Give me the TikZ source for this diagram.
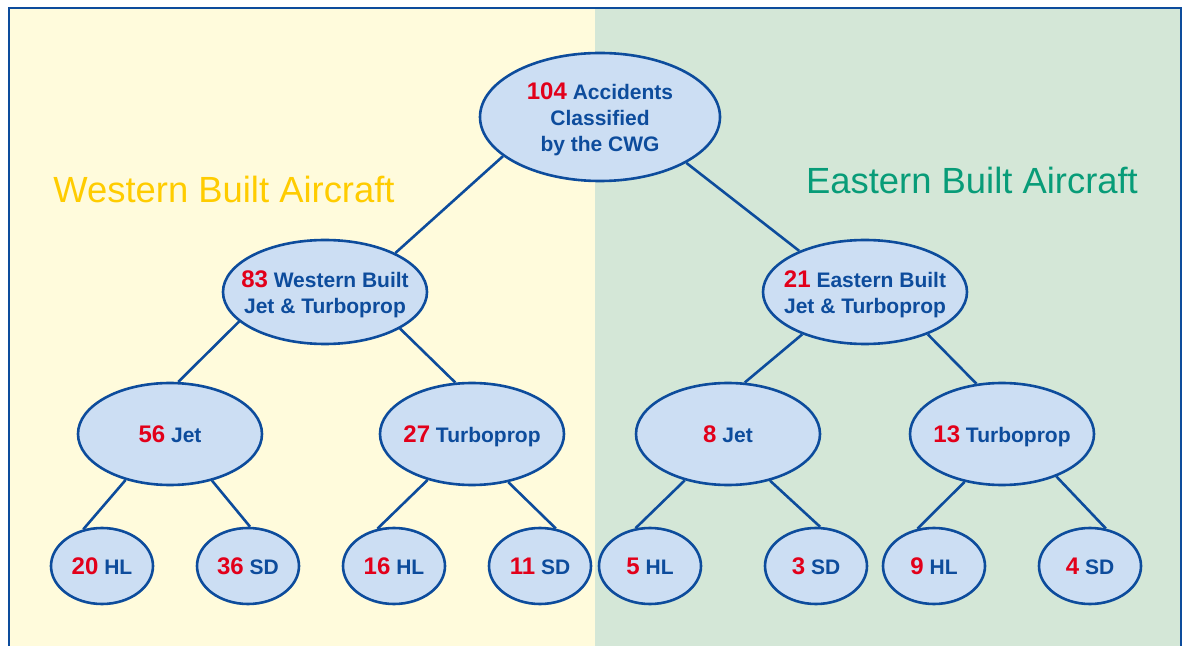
\documentclass[tikz,border=0pt]{standalone}
\usepackage{fontspec}
\setmainfont{Liberation Sans}
\usepackage{tikz}
\usetikzlibrary{shapes.geometric}

\definecolor{westfill}{HTML}{FFFBDC}
\definecolor{eastfill}{HTML}{D4E7D7}
\definecolor{bubblefill}{HTML}{CCDEF3}
\definecolor{navy}{HTML}{0D4C9C}
\definecolor{countred}{HTML}{E2001A}
\definecolor{westtitle}{HTML}{FFCC00}
\definecolor{easttitle}{HTML}{089C78}

\newcommand{\cnt}[1]{{\fontsize{12}{13}\selectfont\color{countred}#1}}

\begin{document}
\begin{tikzpicture}[
    x=0.5pt, y=-0.5pt,
    every node/.style={font=\bfseries\fontsize{10.5}{13}\selectfont},
    bubble/.style={
      ellipse, draw=navy, line width=1.3pt,
      fill=bubblefill, inner sep=0pt
    },
    rootbox/.style={bubble, minimum width=120pt, minimum height=64pt},
    groupbox/.style={bubble, minimum width=102pt, minimum height=52pt},
    typebox/.style={bubble, minimum width=92pt, minimum height=51pt},
    leafbox/.style={bubble, minimum width=51pt, minimum height=38pt},
    caption/.style={text=navy, align=center, inner sep=0pt, text depth=0pt},
    region/.style={font=\fontsize{18.2}{20}\selectfont, inner sep=0pt},
    link/.style={draw=navy, line width=1.3pt}
  ]

    % canvas and halves
    \useasboundingbox (0,0) rectangle (1182,646);
    \fill[westfill] (9,9) rectangle (595,646);
    \fill[eastfill] (595,9) rectangle (1181,646);
    \draw[navy, line width=1pt] (8.5,646) -- (8.5,8.5) -- (1181,8.5) -- (1181,646);

    \node[region, text=westtitle] (westlabel) at (224,189) {Western Built Aircraft};
    \node[region, text=easttitle] (eastlabel) at (972,180) {Eastern Built Aircraft};

    % tree
    \node[rootbox, label={[caption]center:{\cnt{104} Accidents\\Classified\\by the CWG}}]
      (all) at (600,117) {};

    \node[groupbox, label={[caption]center:{\cnt{83} Western Built\\Jet \& Turboprop}}]
      (west) at (325,292) {};
    \node[groupbox, label={[caption]center:{\cnt{21} Eastern Built\\Jet \& Turboprop}}]
      (east) at (865,292) {};

    \node[typebox, label={[caption]center:{\cnt{56} Jet}}] (wjet) at (170,434) {};
    \node[typebox, label={[caption]center:{\cnt{27} Turboprop}}] (wturbo) at (472,434) {};
    \node[typebox, label={[caption]center:{\cnt{8} Jet}}] (ejet) at (728,434) {};
    \node[typebox, label={[caption]center:{\cnt{13} Turboprop}}] (eturbo) at (1002,434) {};

    \node[leafbox, label={[caption]center:{\cnt{20} HL}}] (wjethl) at (102,566) {};
    \node[leafbox, label={[caption]center:{\cnt{36} SD}}] (wjetsd) at (248,566) {};
    \node[leafbox, label={[caption]center:{\cnt{16} HL}}] (wturbohl) at (394,566) {};
    \node[leafbox, label={[caption]center:{\cnt{11} SD}}] (wturbosd) at (540,566) {};
    \node[leafbox, label={[caption]center:{\cnt{5} HL}}] (ejethl) at (650,566) {};
    \node[leafbox, label={[caption]center:{\cnt{3} SD}}] (ejetsd) at (816,566) {};
    \node[leafbox, label={[caption]center:{\cnt{9} HL}}] (eturbohl) at (934,566) {};
    \node[leafbox, label={[caption]center:{\cnt{4} SD}}] (eturbosd) at (1090,566) {};

    \draw[link] (all.202) -- (west.29);
    \draw[link] (all.332) -- (east.148);

    \draw[link] (west.199) -- (wjet.81);
    \draw[link] (west.334) -- (wturbo.108);
    \draw[link] (east.214) -- (ejet.72);
    \draw[link] (east.326) -- (eturbo.117);

    \draw[link] (wjet.226)   -- (wjethl.117);
    \draw[link] (wjet.312)   -- (wjetsd.87);
    \draw[link] (wturbo.226) -- (wturbohl.114);
    \draw[link] (wturbo.307) -- (wturbosd.67);
    \draw[link] (ejet.227)   -- (ejethl.111);
    \draw[link] (ejet.312)   -- (ejetsd.84);
    \draw[link] (eturbo.232) -- (eturbohl.114);
    \draw[link] (eturbo.322) -- (eturbosd.67);

  \end{tikzpicture}
\end{document}
